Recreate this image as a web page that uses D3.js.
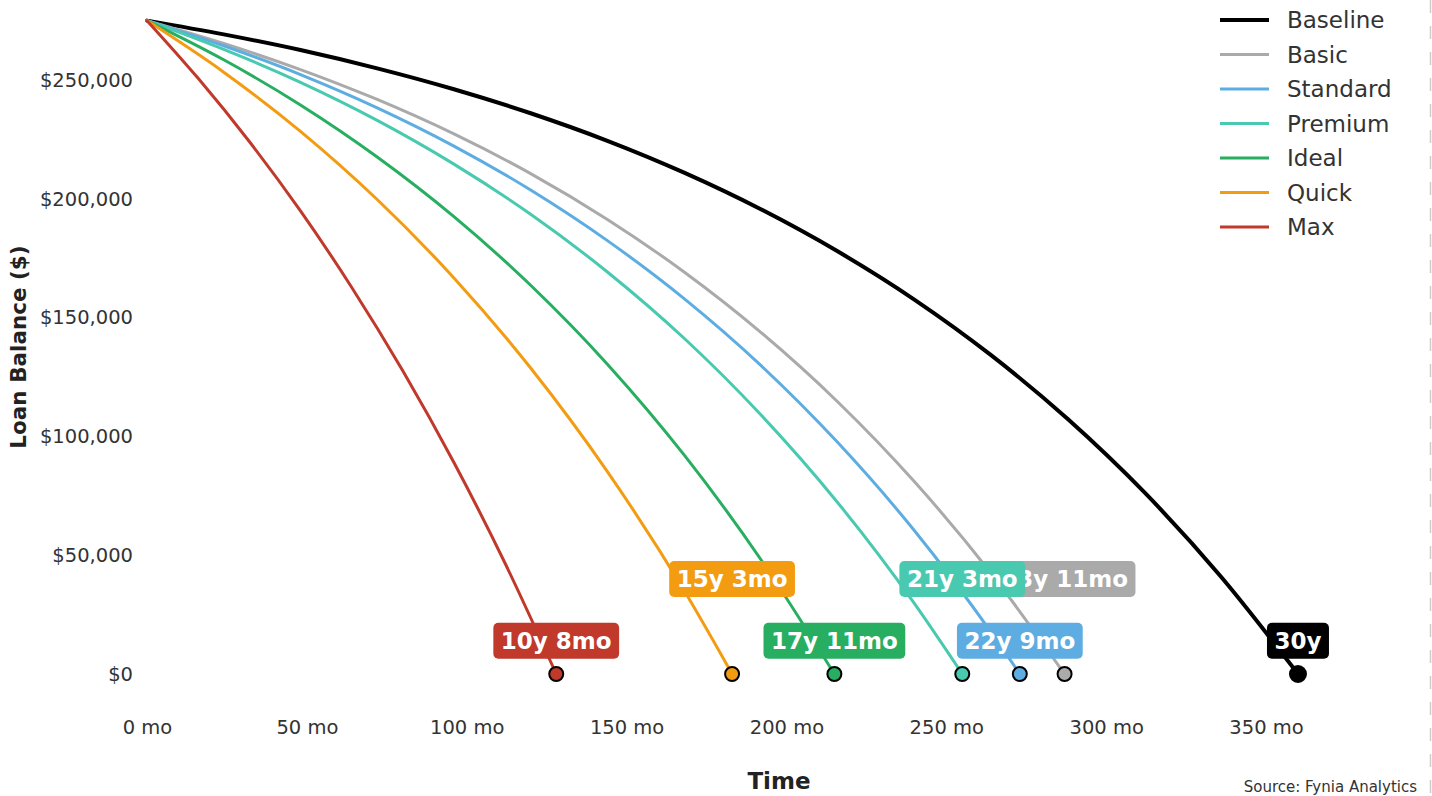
<!DOCTYPE html>
<html>
<head>
<meta charset="utf-8">
<script src="https://cdn.jsdelivr.net/npm/d3@7/dist/d3.min.js"></script>
<style>
  html, body { margin: 0; padding: 0; background: #fff; }
  svg { display: block; font-family: "DejaVu Sans", sans-serif; }
</style>
</head>
<body>
<svg id="chart" width="1432" height="796"></svg>
<script>
// ---------- DATA ----------
const seriesNames = ["Baseline", "Basic", "Standard", "Premium", "Ideal", "Quick", "Max"];
const seriesColors = ["#000000", "#aaaaaa", "#5dade2", "#48c9b0", "#27ae60", "#f39c12", "#c0392b"];
const payoffMonths = [360, 287, 273, 255, 215, 183, 128];
const payoffLabels = ["30y", "23y 11mo", "22y 9mo", "21y 3mo", "17y 11mo", "15y 3mo", "10y 8mo"];

const baselineMonths = [0, 24, 48, 72, 96, 120, 144, 168, 192, 216, 240, 264, 288, 312, 336, 360];
const baselineBalance = [275000, 269200, 262600, 254900, 246100, 236000, 224400, 211000, 195600, 177900, 157600, 134200, 107300, 76400, 40800, 0];
const basicMonths = [0, 24, 48, 72, 96, 120, 144, 168, 192, 216, 240, 264, 287];
const basicBalance = [275000, 265400, 254400, 241800, 227300, 210600, 191300, 169200, 143800, 114600, 81000, 42400, 0];
const standardMonths = [0, 24, 48, 72, 96, 120, 144, 168, 192, 216, 240, 264, 273];
const standardBalance = [275000, 264400, 252300, 238300, 222200, 203700, 182400, 158000, 129900, 97500, 60400, 17600, 0];
const premiumMonths = [0, 24, 48, 72, 96, 120, 144, 168, 192, 216, 240, 255];
const premiumBalance = [275000, 262900, 249000, 233000, 214600, 193500, 169200, 141300, 109100, 72200, 29700, 0];
const idealMonths = [0, 24, 48, 72, 96, 120, 144, 168, 192, 215];
const idealBalance = [275000, 258500, 239500, 217600, 192500, 163600, 130400, 92200, 48200, 0];
const quickMonths = [0, 24, 48, 72, 96, 120, 144, 168, 183];
const quickBalance = [275000, 253300, 228400, 199700, 166700, 128800, 85200, 35100, 0];
const maxMonths = [0, 16, 32, 48, 64, 80, 96, 112, 128];
const maxBalance = [275000, 250700, 224100, 194900, 162800, 127600, 89000, 46600, 0];

const xTicks = [0, 50, 100, 150, 200, 250, 300, 350];
const yTicks = [0, 50000, 100000, 150000, 200000, 250000];

const allMonths = [baselineMonths, basicMonths, standardMonths, premiumMonths, idealMonths, quickMonths, maxMonths];
const allBalances = [baselineBalance, basicBalance, standardBalance, premiumBalance, idealBalance, quickBalance, maxBalance];

// ---------- BUILD ----------
const series = seriesNames.map((name, i) => ({
  name,
  color: seriesColors[i],
  payoff: payoffMonths[i],
  label: payoffLabels[i],
  points: allMonths[i].map((m, j) => ({ m, v: allBalances[i][j] }))
}));

const svg = d3.select("#chart");
const x = d3.scaleLinear().domain([0, 350]).range([147, 1266]);
const y = d3.scaleLinear().domain([0, 250000]).range([674, 80]);
const textColor = "#333333";

// right dashed border
svg.append("line")
  .attr("x1", 1430.5).attr("x2", 1430.5).attr("y1", 0).attr("y2", 796)
  .attr("stroke", "#cccccc").attr("stroke-width", 1.5)
  .attr("stroke-dasharray", "13,13");

// axes (labels only)
const xAxis = svg.append("g").attr("transform", "translate(0,714)")
  .call(d3.axisBottom(x).tickValues(xTicks).tickSize(0).tickPadding(0).tickFormat(d => d + " mo"));
xAxis.select(".domain").remove();
xAxis.selectAll("text").attr("font-size", "19.5px").attr("fill", textColor)
  .attr("font-family", "DejaVu Sans").attr("dy", "1.05em");

const yAxis = svg.append("g").attr("transform", "translate(133,0)")
  .call(d3.axisLeft(y).tickValues(yTicks).tickSize(0).tickPadding(0)
    .tickFormat(d => "$" + d3.format(",")(d)));
yAxis.select(".domain").remove();
yAxis.selectAll("text").attr("font-size", "19.5px").attr("fill", textColor)
  .attr("font-family", "DejaVu Sans");

// axis titles
svg.append("text").attr("x", 779).attr("y", 789).attr("text-anchor", "middle")
  .attr("font-size", "23px").attr("font-weight", "bold").attr("fill", "#222")
  .text("Time");
svg.append("text").attr("transform", "translate(26,347) rotate(-90)").attr("text-anchor", "middle")
  .attr("font-size", "21.5px").attr("font-weight", "bold").attr("fill", "#222")
  .text("Loan Balance ($)");

// source
svg.append("text").attr("x", 1417).attr("y", 792).attr("text-anchor", "end")
  .attr("font-size", "15px").attr("fill", textColor)
  .text("Source: Fynia Analytics");

// lines
const line = d3.line().x(d => x(d.m)).y(d => y(d.v)).curve(d3.curveMonotoneX);
const linesG = svg.append("g");
series.forEach(s => {
  linesG.append("path").datum(s.points)
    .attr("d", line)
    .attr("fill", "none")
    .attr("stroke", s.color)
    .attr("stroke-width", s.name === "Baseline" ? 4 : 3)
    .attr("stroke-linejoin", "round")
    .attr("stroke-linecap", "round");
});

// end markers
series.forEach(s => {
  svg.append("circle")
    .attr("cx", x(s.payoff)).attr("cy", y(0))
    .attr("r", s.name === "Baseline" ? 8 : 7)
    .attr("fill", s.color)
    .attr("stroke", "#000").attr("stroke-width", 2);
});

// payoff labels (alternate low/high by payoff order)
const order = series.slice().sort((a, b) => a.payoff - b.payoff);
const levelOf = new Map(order.map((s, i) => [s.name, i % 2 === 0 ? 14000 : 40000]));
const labelsG = svg.append("g");
series.forEach(s => {
  const g = labelsG.append("g").attr("transform", `translate(${x(s.payoff)},${y(levelOf.get(s.name))})`);
  const t = g.append("text").attr("text-anchor", "middle").attr("dy", "0.36em")
    .attr("font-size", "23px").attr("font-weight", "bold").attr("fill", "#fff")
    .text(s.label);
  const w = t.node().getComputedTextLength();
  g.insert("rect", "text")
    .attr("x", -w / 2 - 7.5).attr("y", -18).attr("width", w + 15).attr("height", 36)
    .attr("rx", 5).attr("fill", s.color);
});

// legend
const legend = svg.append("g");
series.forEach((s, i) => {
  const yy = 20 + i * 34.5;
  legend.append("line").attr("x1", 1220).attr("x2", 1269).attr("y1", yy).attr("y2", yy)
    .attr("stroke", s.color).attr("stroke-width", s.name === "Baseline" ? 4 : 3);
  legend.append("text").attr("x", 1287).attr("y", yy).attr("dy", "0.35em")
    .attr("font-size", "23px").attr("fill", textColor).text(s.name);
});
</script>
</body>
</html>
